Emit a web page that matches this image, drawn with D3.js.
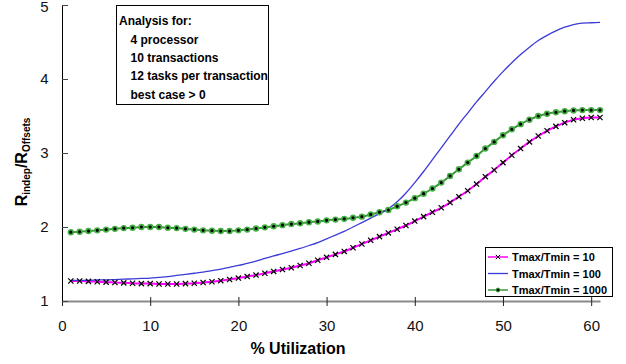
<!DOCTYPE html>
<html>
<head>
<meta charset="utf-8">
<script src="https://cdn.jsdelivr.net/npm/d3@7"></script>
<style>
  body { margin: 0; background: #fff; }
  svg { display: block; font-family: "Liberation Sans", Arial, sans-serif; }
</style>
</head>
<body>
<div class="chart"></div>
<script>
// % utilization (x values of every series)
const utilization = [1, 2, 3, 4, 5, 6, 7, 8, 9, 10, 11, 12, 13, 14, 15, 16, 17, 18, 19, 20,
  21, 22, 23, 24, 25, 26, 27, 28, 29, 30, 31, 32, 33, 34, 35, 36, 37, 38, 39, 40,
  41, 42, 43, 44, 45, 46, 47, 48, 49, 50, 51, 52, 53, 54, 55, 56, 57, 58, 59, 60, 61];

// R_indep / R_Offsets, Tmax/Tmin = 10
const ratio10 = [1.27, 1.27, 1.265, 1.26, 1.255, 1.25, 1.245, 1.24, 1.235, 1.235,
  1.23, 1.23, 1.23, 1.235, 1.24, 1.25, 1.26, 1.275, 1.29, 1.31,
  1.33, 1.35, 1.375, 1.40, 1.425, 1.45, 1.48, 1.51, 1.55, 1.59,
  1.63, 1.67, 1.72, 1.77, 1.82, 1.87, 1.92, 1.97, 2.02, 2.08,
  2.14, 2.20, 2.26, 2.33, 2.41, 2.49, 2.58, 2.68, 2.77, 2.87,
  2.97, 3.06, 3.15, 3.23, 3.30, 3.36, 3.41, 3.45, 3.47, 3.48, 3.48];

// Tmax/Tmin = 100
const ratio100 = [1.28, 1.28, 1.28, 1.285, 1.285, 1.29, 1.295, 1.30, 1.305, 1.31,
  1.32, 1.33, 1.345, 1.36, 1.375, 1.39, 1.41, 1.43, 1.455, 1.48,
  1.51, 1.54, 1.575, 1.61, 1.64, 1.675, 1.71, 1.75, 1.79, 1.84,
  1.89, 1.94, 2.0, 2.06, 2.12, 2.18, 2.245, 2.34, 2.46, 2.60,
  2.75, 2.91, 3.07, 3.23, 3.39, 3.54, 3.69, 3.83, 3.97, 4.10,
  4.22, 4.33, 4.43, 4.52, 4.59, 4.65, 4.70, 4.735, 4.755, 4.76, 4.765];

// Tmax/Tmin = 1000
const ratio1000 = [1.93, 1.935, 1.945, 1.955, 1.965, 1.975, 1.985, 1.99, 2.0, 2.0,
  2.0, 1.99, 1.985, 1.975, 1.965, 1.955, 1.95, 1.945, 1.945, 1.955,
  1.965, 1.98, 1.995, 2.01, 2.025, 2.04, 2.05, 2.065, 2.075, 2.09,
  2.10, 2.11, 2.125, 2.14, 2.17, 2.20, 2.23, 2.28, 2.33, 2.39,
  2.45, 2.52, 2.60, 2.69, 2.78, 2.87, 2.96, 3.06, 3.15, 3.24,
  3.32, 3.39, 3.45, 3.50, 3.53, 3.55, 3.565, 3.575, 3.58, 3.58, 3.58];

const xTicks = [0, 10, 20, 30, 40, 50, 60];
const yTicks = [1, 2, 3, 4, 5];
const legendLabels = ['Tmax/Tmin = 10', 'Tmax/Tmin = 100', 'Tmax/Tmin = 1000'];
const noteLines = ['Analysis for:', '4 processor', '10 transactions', '12 tasks per transaction', 'best case > 0'];

const width = 626, height = 364;
const svg = d3.select('.chart').append('svg').attr('width', width).attr('height', height);

const x = d3.scaleLinear().domain([0, 61]).range([62, 600]);
const y = d3.scaleLinear().domain([1, 5]).range([301, 5]);

/**
 * axes
 */
const xAxis = svg.append('g').attr('transform', `translate(0,${y(1)})`)
  .call(d3.axisBottom(x).tickValues(xTicks).tickFormat(d3.format('d'))
    .tickSizeInner(5).tickSizeOuter(0).tickPadding(14));
xAxis.select('.domain').attr('stroke', '#8a8a8a').attr('stroke-width', 2);
xAxis.selectAll('.tick line').attr('y1', -4).attr('stroke', '#222');
xAxis.selectAll('.tick text').attr('font-size', 15).attr('fill', '#111')
  .attr('font-family', '"Liberation Sans", Arial, sans-serif');

const yAxis = svg.append('g').attr('transform', `translate(${x(0)},0)`)
  .call(d3.axisLeft(y).tickValues(yTicks).tickFormat(d3.format('d'))
    .tickSizeInner(5).tickSizeOuter(0).tickPadding(8.5));
yAxis.select('.domain').attr('stroke', '#000');
yAxis.selectAll('.tick line').attr('x2', 6).attr('stroke', '#444');
yAxis.selectAll('.tick text').attr('font-size', 15).attr('fill', '#111')
  .attr('font-family', '"Liberation Sans", Arial, sans-serif')
  .attr('y', d => d === 5 ? 1.5 : 0);   // keep the top label inside the frame

svg.append('text')
  .attr('x', 298).attr('y', 354)
  .attr('text-anchor', 'middle')
  .attr('font-size', 16).attr('font-weight', 'bold')
  .text('% Utilization');

const yLabel = svg.append('text')
  .attr('transform', 'translate(27,162) rotate(-90)')
  .attr('text-anchor', 'middle')
  .attr('font-size', 16).attr('font-weight', 'bold');
yLabel.append('tspan').text('R');
yLabel.append('tspan').attr('font-size', 10).attr('dy', 3).text('indep');
yLabel.append('tspan').attr('dy', -3).text('/R');
yLabel.append('tspan').attr('font-size', 10).attr('dy', 3).text('Offsets');

/**
 * series
 */
const line = d3.line()
  .x((d, i) => x(utilization[i]))
  .y(d => y(d))
  .curve(d3.curveMonotoneX);

svg.append('path').attr('d', line(ratio1000))
  .attr('fill', 'none').attr('stroke', '#3a9a3a').attr('stroke-width', 2);
svg.append('path').attr('d', line(ratio10))
  .attr('fill', 'none').attr('stroke', '#ff00ff').attr('stroke-width', 2);
svg.append('path').attr('d', line(ratio100))
  .attr('fill', 'none').attr('stroke', '#3b3bd8').attr('stroke-width', 1.3);

const cross = s => `M${-s},${-s}L${s},${s}M${-s},${s}L${s},${-s}`;

svg.append('g').selectAll('path').data(ratio10).enter().append('path')
  .attr('transform', (d, i) => `translate(${x(utilization[i])},${y(d)})`)
  .attr('d', cross(2.6))
  .attr('stroke', '#000').attr('stroke-width', 1.2).attr('fill', 'none');

svg.append('g').selectAll('circle').data(ratio1000).enter().append('circle')
  .attr('cx', (d, i) => x(utilization[i]))
  .attr('cy', d => y(d))
  .attr('r', 2.4)
  .attr('fill', '#000').attr('stroke', '#45b045').attr('stroke-width', 1.6);

/**
 * note box
 */
svg.append('rect')
  .attr('x', 116.5).attr('y', 5.5).attr('width', 152).attr('height', 99)
  .attr('fill', '#fff').attr('stroke', '#000');
svg.append('g').selectAll('text').data(noteLines).enter().append('text')
  .attr('x', (d, i) => i === 0 ? 119 : 130.5)
  .attr('y', (d, i) => 25.3 + i * 18.3)
  .attr('font-size', 12).attr('font-weight', 'bold')
  .text(d => d);

/**
 * legend
 */
const legend = svg.append('g');
legend.append('rect')
  .attr('x', 485.5).attr('y', 247.5).attr('width', 127).attr('height', 49)
  .attr('fill', '#fff').attr('stroke', '#000');
const rowY = i => 257 + i * 16.5;
const legendColors = ['#ff00ff', '#3b3bd8', '#3a9a3a'];
legend.selectAll('line').data(legendLabels).enter().append('line')
  .attr('x1', 488).attr('x2', 508)
  .attr('y1', (d, i) => rowY(i)).attr('y2', (d, i) => rowY(i))
  .attr('stroke', (d, i) => legendColors[i])
  .attr('stroke-width', (d, i) => i === 1 ? 1.3 : 1.5);
legend.append('path')
  .attr('transform', `translate(498,${rowY(0)})`)
  .attr('d', cross(2.2)).attr('stroke', '#000').attr('stroke-width', 1);
legend.append('circle')
  .attr('cx', 498).attr('cy', rowY(2)).attr('r', 2)
  .attr('fill', '#000').attr('stroke', '#45b045').attr('stroke-width', 1);
legend.selectAll('text').data(legendLabels).enter().append('text')
  .attr('x', 512).attr('y', (d, i) => rowY(i) + 4)
  .attr('font-size', 11).attr('font-weight', 'bold')
  .text(d => d);
</script>
</body>
</html>
